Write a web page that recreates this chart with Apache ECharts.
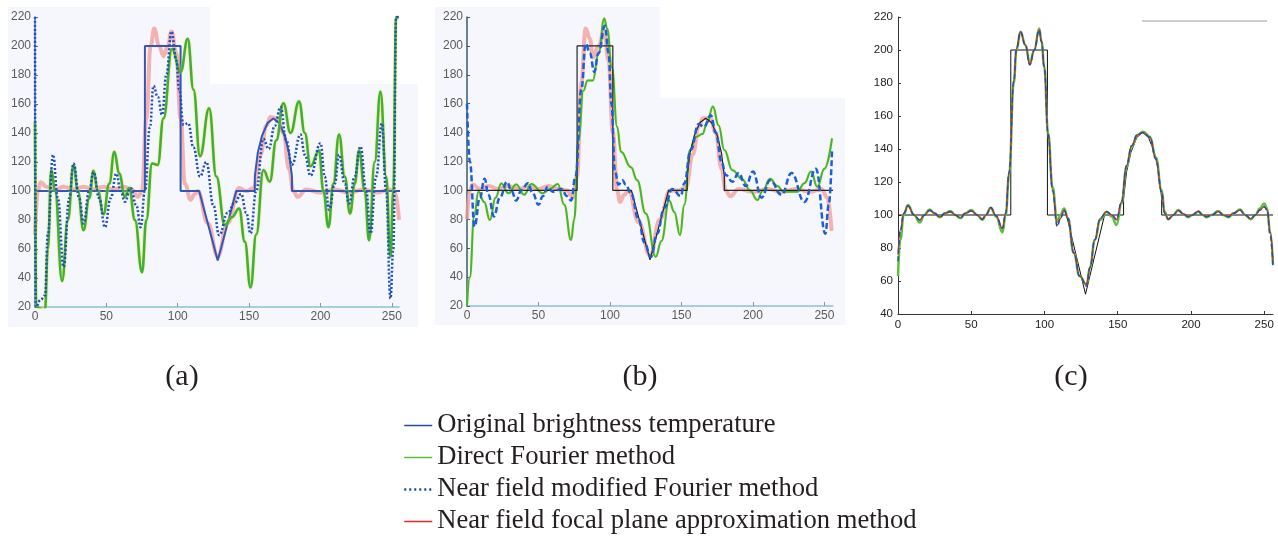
<!DOCTYPE html>
<html>
<head>
<meta charset="utf-8">
<script src="https://cdn.jsdelivr.net/npm/echarts@6/dist/echarts.min.js"></script>
<style>
html, body { margin: 0; padding: 0; background: #fff; }
#main { width: 1278px; height: 536px; }
</style>
</head>
<body>
<div id="main"></div>
<script>
var xTicks = [0, 50, 100, 150, 200, 250];
var yTicksAB = [20, 40, 60, 80, 100, 120, 140, 160, 180, 200, 220];
var yTicksC = [40, 60, 80, 100, 120, 140, 160, 180, 200, 220];
var panelLabels = ['(a)', '(b)', '(c)'];
var names = ['Original brightness temperature', 'Direct Fourier method',
             'Near field modified Fourier method', 'Near field focal plane approximation method'];

// original profile (same in every panel)
var original = [[0,100],[77,100],[77,200],[102,200],[102,100],[115,100],[128,52],[141,100],[154,100],
  [154,110],[156,126],[159,138],[163,147],[167,150],[171,147],[175,138],[178,126],[180,110],[180,100],[256,100]];

// panel (a)
var directA = [[0,148],[0.8,20],[7,18],[9,60],[11.4,115],[14,100],[19,38],[23,80],[27,118],[30,100],[34,73],
  [38,95],[41,114],[44,100],[48,84],[52,105],[55.6,127],[59,112],[63,96],[66,102],[70,80],[75,44],[78,80],
  [82,119],[86,118],[90,150],[96,198],[102,182],[107,205],[111,170],[115.6,124],[122,157],[127,110],[133,76.5],
  [138,82],[143,88],[147,65],[151,33.5],[155,70],[160,114.5],[164.5,106.5],[169,135],[174,160.5],[179,140],
  [185,161.7],[189,140],[193,117],[199,128],[202,100],[205.6,75],[209,105],[213,139],[217,110],[220.7,84.5],
  [224,105],[227,128],[231,100],[234,66],[238,120],[242,168.6],[246,110],[249,54.5],[251,100],[253,220],[255,220]];
var modifiedA = [[0,220],[0.5,20],[4,25],[7,28],[9,70],[12.6,125],[16,95],[20,47.6],[24,95],[27,119],[31,95],
  [34,77.6],[38,100],[41,113],[45,95],[49,75],[53,95],[57,112],[60,100],[63,92.6],[67,102],[71,90],[74,75],
  [77,100],[80.5,144],[83,172.5],[86,165],[89,152.5],[92,180],[95.6,210],[99,190],[101,170],[104,145.6],
  [107.4,146.7],[111,130],[115.6,110],[120,120],[125,90],[129,69.5],[135,85],[140,92],[144.4,98],[148,85],
  [151,70.7],[155,100],[160,136],[163.7,129],[168,145],[172,158],[176,135],[180,118],[186,139],[189,125],
  [193,110.6],[200,133],[203,110],[206,87],[210,105],[213,125],[217,105],[220,91.4],[224,110],[228,130.6],
  [232,100],[235,70.7],[239,110],[243,146.7],[246,100],[249,25.8],[251,60],[253,220],[255,220]];
var focalA = [[0,70],[2,100],[4,106],[8,103],[14,101],[20,103],[27,101],[34,103],[41,101],[48,103],[55,101],
  [62,103],[68,101],[72,96],[75,100],[78,150],[81,200],[83.5,212],[87,200],[90,193],[93,200],[95.6,210],[99,195],
  [102,150],[105,105],[109,94],[112,98],[114,100],[121,78],[128,55],[135,78],[143,102],[148,100],[153,102],
  [158,125],[162,145],[165,151],[170,150],[174,140],[178,115],[181,100],[184,96],[190,101],[200,99],[210,101],
  [220,99],[230,101],[240,99],[248,101],[252,100],[255,80]];

// panel (b)
var directB = [[0,20],[2,40],[5,82],[8,99],[12,92],[16,79.5],[20,95],[24,104.8],[29,98],[34.4,104],[40,97],
  [45,104.4],[53,98],[58,101],[63.5,104.4],[68,90],[72.8,65.6],[75,80],[78,135],[81.4,169],[84.4,176],[88,176],
  [92,195],[96,219],[98,212],[101.4,185],[105,144],[107.7,126.7],[114.7,116],[119,107],[125,84],[132,54],
  [136,65],[141.4,93],[145,85],[149,69],[152,90],[156,128],[160,137],[164.7,139],[168,147],[172,158],[176,145],
  [180,128],[185.6,114],[192.6,107.6],[198,100],[203,93.3],[207,100],[212,108],[217,103],[221.6,99],[231,99],
  [236,105],[240.7,113],[245,102.5],[250,115],[255.3,136]];
var modifiedB = [[0,160],[2,120],[5.3,75],[9,95],[12.3,108],[15,97],[18.8,82],[23,95],[28,106],[31,100],
  [34.4,93],[38,100],[42.6,105],[46,98],[50,90],[53,96],[56.5,102.5],[60,99],[66,101],[70,96],[72.8,93],
  [76,110],[80,170],[83,201.6],[86,195],[89,182],[92,195],[96.5,214],[99,195],[101,160],[103.5,113],[106,104],
  [108.8,107],[111,104],[114.7,98],[120,80],[124,64],[128.6,54],[133,70],[138,88],[143.7,101],[149.5,96],
  [152,105],[156.5,128],[162,146],[165.8,144],[170.5,152],[174,140],[178,120],[181,110.6],[185.6,106],
  [190,112],[195,103],[200,113],[206,95],[212,107],[220,97],[227,112],[236,92],[244,115],[250.7,70],[253,90],
  [255.3,127]];
var focalB = [[0,80],[2,100],[4,104],[9,101],[15,103],[22,101],[29,103],[36,101],[43,103],[50,101],[57,103],
  [64,101],[70,100],[74,95],[77,110],[80,175],[83,212],[86,205],[88,192],[92,200],[96,210],[99,190],[102,140],
  [105,100],[107,92],[110,97],[113,100],[120,78],[128,55],[135,80],[142,100],[148,100],[153,102],[158,125],
  [162,144],[165,150],[170,150],[174,140],[178,115],[181,100],[184,96],[190,101],[200,99],[210,101],[220,99],
  [230,101],[240,99],[248,101],[252,95],[255,72]];

// panel (c)
var directC = [[0,63],[1.6,85],[3.9,100],[6.8,106],[11,100],[14.8,95.4],[18,100],[21.6,103.4],[25,101],
  [28.5,98.6],[32,101],[35.8,102.4],[39,100],[42.6,98],[46,101],[50,103],[54,100],[57.6,97],[60,100],
  [63.3,104.4],[67,99],[71.3,89.4],[73.5,100],[75.9,125],[79,180],[80.9,200],[83.6,211],[87,203],[90,192],
  [93,200],[96.4,213],[98,205],[99.8,190],[102.5,149.4],[105.5,117],[108.7,96],[111,100],[113.4,104],[116,98],
  [120,76.9],[124,63],[128.7,57.7],[131,68],[134.4,85],[138,97],[142.4,102],[146,99],[149.2,94],[152.6,107],
  [156,129],[159.5,141],[163.3,148.4],[167.4,150.4],[172,147.4],[176,135],[180,115],[182,102],[184.5,97.4],
  [188,100],[191.3,103],[195,100.5],[198,98.6],[201,100],[205,102],[208,100],[210.7,98.6],[214,100],
  [218.7,102.4],[222,100],[225.5,98.6],[229,101],[233.5,103.4],[237,100],[240.8,97.4],[244,100],[247,104],
  [250,107],[252,104],[254,90],[256,70]];
var modifiedC = [[0,72],[1.6,90],[3.9,101],[6.8,105.5],[11,100],[14.8,97],[18,100],[21.6,102.8],[25,101],
  [28.5,98.8],[32,101],[35.8,102],[39,100],[42.6,98.4],[46,101],[50,102.5],[54,100],[57.6,97.5],[60,100],
  [63.3,104.5],[67,99.5],[71.3,92],[73.5,101],[75.9,126],[79,181],[80.9,201],[83.6,211],[87,203],[90,191],
  [93,200],[96.4,212],[98,205],[99.8,190],[102.5,149],[105.5,115],[108.7,93],[111,98],[113.4,103],[116,98],
  [120,77],[124,63],[128.7,57],[131,68],[134.4,85],[138,98],[142.4,102],[146,100],[149.2,97.5],[152.6,108],
  [156,130],[159.5,142],[163.3,148.6],[167.4,150],[172,147],[176,134],[180,114],[182,101],[184.5,97.5],
  [188,100],[191.3,102.8],[195,100.5],[198,99],[201,100],[205,102.4],[208,100],[210.7,99],[214,100],
  [218.7,102],[222,100],[225.5,99],[229,101],[233.5,103],[237,100],[240.8,97.8],[244,100],[247,103],
  [250,105],[252,103],[254,88],[256,68]];
var focalC = [[0,76],[1.6,91],[3.9,101],[6.8,105.5],[11,100],[14.8,97],[18,100],[21.6,103],[25,101],
  [28.5,98.8],[32,101],[35.8,102],[39,100],[42.6,98.4],[46,101],[50,102.5],[54,100],[57.6,97.5],[60,100],
  [63.3,104.4],[67,99.5],[71.3,92],[73.5,101],[75.9,126],[79,181],[80.9,201],[83.6,211],[87,203],[90,191],
  [93,200],[96.4,212],[98,205],[99.8,190],[102.5,149],[105.5,115],[108.7,94],[111,98],[113.4,103],[116,98],
  [120,77],[124,63],[128.7,58],[131,68],[134.4,85],[138,98],[142.4,102],[146,100],[149.2,97],[152.6,108],
  [156,130],[159.5,142],[163.3,148.6],[167.4,150],[172,147],[176,134],[180,114],[182,101],[184.5,97.5],
  [188,100],[191.3,102.8],[195,100.5],[198,99],[201,100],[205,102.4],[208,100],[210.7,99],[214,100],
  [218.7,102],[222,100],[225.5,99],[229,101],[233.5,103],[237,100],[240.8,97.8],[244,100],[247,103],
  [250,105],[252,103],[254,90],[256,72]];

var myChart = echarts.init(document.getElementById('main'), null, { renderer: 'canvas' });

function line(name, data, idx, style, z, smooth) {
    return {
        name: name,
        type: 'line',
        xAxisIndex: idx,
        yAxisIndex: idx,
        data: data,
        showSymbol: false,
        symbol: 'none',
        smooth: smooth ? 0.45 : false,
        smoothMonotone: 'x',
        lineStyle: style,
        z: z,
        silent: true,
        animation: false
    };
}

function xAxisAB(idx, max) {
    return {
        type: 'value', gridIndex: idx, min: 0, max: max, interval: 50,
        axisLine: { lineStyle: { color: '#8fbfd9', width: 1.5 } },
        axisTick: { inside: true, length: 4, customValues: xTicks, lineStyle: { color: '#6f9fbf' } },
        axisLabel: { customValues: xTicks, color: '#5a5a5a', fontSize: 12, margin: 4, fontFamily: 'Liberation Sans' },
        splitLine: { show: false }
    };
}
function yAxisAB(idx, color) {
    return {
        type: 'value', gridIndex: idx, min: 20, max: 220, interval: 20,
        axisLine: { show: true, lineStyle: { color: color, width: 1.5 } },
        axisTick: { inside: true, length: 3, lineStyle: { color: color } },
        axisLabel: { color: '#5a5a5a', fontSize: 12, margin: 4, fontFamily: 'Liberation Sans' },
        splitLine: { show: false }
    };
}

var pinkStyle = { color: '#f29a9a', width: 4, opacity: 0.75 };
var greenStyle = { color: '#3fae3a', width: 2.5, shadowColor: 'rgba(225,225,40,0.9)', shadowBlur: 2 };
var labelFont = '30px "Liberation Serif"';

option = {
    backgroundColor: '#ffffff',
    animation: false,
    grid: [
        { left: 35, top: 17, width: 364, height: 290 },
        { left: 467, top: 17, width: 366, height: 289 },
        { left: 898, top: 17, width: 375, height: 297 }
    ],
    xAxis: [
        xAxisAB(0, 255),
        xAxisAB(1, 256),
        {
            type: 'value', gridIndex: 2, min: 0, max: 256, interval: 50,
            axisLine: { lineStyle: { color: '#333', width: 1 } },
            axisTick: { inside: true, length: 3, customValues: xTicks, lineStyle: { color: '#333' } },
            axisLabel: { customValues: xTicks, color: '#222', fontSize: 11.5, margin: 5, fontFamily: 'Liberation Sans' },
            splitLine: { show: false }
        }
    ],
    yAxis: [
        yAxisAB(0, '#4a6aa8'),
        yAxisAB(1, '#3c5a66'),
        {
            type: 'value', gridIndex: 2, min: 40, max: 220, interval: 20,
            axisLine: { show: true, lineStyle: { color: '#333', width: 1 } },
            axisTick: { inside: true, length: 3, lineStyle: { color: '#333' } },
            axisLabel: { color: '#222', fontSize: 11.5, margin: 5, fontFamily: 'Liberation Sans' },
            splitLine: { show: false }
        }
    ],
    legend: {
        orient: 'vertical',
        left: 403,
        top: 412,
        height: 124,
        padding: 0,
        itemWidth: 28,
        itemHeight: 14,
        itemGap: 5,
        selectedMode: false,
        itemStyle: { opacity: 0 },
        textStyle: { color: '#231f20', fontSize: 26.6, fontFamily: 'Liberation Serif' },
        data: [
            { name: names[0], lineStyle: { color: '#2c4a9c', width: 1.5, type: 'solid', opacity: 1, shadowBlur: 0 } },
            { name: names[1], lineStyle: { color: '#5cbb3c', width: 1.5, type: 'solid', opacity: 1, shadowBlur: 0 } },
            { name: names[2], lineStyle: { color: '#2446a6', width: 2.5, type: [2, 3], opacity: 1, shadowBlur: 0 } },
            { name: names[3], lineStyle: { color: '#e8262a', width: 1.5, type: 'solid', opacity: 1, shadowBlur: 0 } }
        ]
    },
    graphic: [
        { type: 'rect', z: -10, shape: { x: 8, y: 7, width: 410, height: 320 }, style: { fill: '#f6f7fc' } },
        { type: 'rect', z: -9, shape: { x: 210, y: 0, width: 210, height: 84 }, style: { fill: '#ffffff' } },
        { type: 'rect', z: -10, shape: { x: 435, y: 7, width: 410, height: 318 }, style: { fill: '#f6f7fc' } },
        { type: 'rect', z: -9, shape: { x: 660, y: 0, width: 186, height: 98 }, style: { fill: '#ffffff' } },
        { type: 'line', shape: { x1: 1142, y1: 21, x2: 1267, y2: 21 }, style: { stroke: '#9c9c9c', lineWidth: 1 } },
        { type: 'text', x: 182, y: 377, style: { text: panelLabels[0], font: labelFont, fill: '#231f20', align: 'center', verticalAlign: 'middle' } },
        { type: 'text', x: 640, y: 377, style: { text: panelLabels[1], font: labelFont, fill: '#231f20', align: 'center', verticalAlign: 'middle' } },
        { type: 'text', x: 1071, y: 377, style: { text: panelLabels[2], font: labelFont, fill: '#231f20', align: 'center', verticalAlign: 'middle' } }
    ],
    series: [
        // (a)
        line(names[3], focalA, 0, pinkStyle, 2, true),
        line(names[0], original, 0, { color: '#3556b4', width: 2 }, 3, false),
        line(names[1], directA, 0, greenStyle, 4, true),
        line(names[2], modifiedA, 0, { color: '#1f4fc4', width: 2.5, type: [2, 2] }, 5, true),
        // (b)
        line(names[3], focalB, 1, pinkStyle, 2, true),
        line(names[1], directB, 1, { color: '#45b23a', width: 2, shadowColor: 'rgba(225,225,40,0.7)', shadowBlur: 1.5 }, 3, true),
        line(names[0], original, 1, { color: '#222', width: 1.2 }, 4, false),
        line(names[2], modifiedB, 1, { color: '#1d5ed6', width: 2.5, type: [6, 3] }, 5, true),
        // (c)
        line(names[0], original, 2, { color: '#111', width: 1 }, 2, false),
        line(names[1], directC, 2, { color: '#5cbf3a', width: 2.5 }, 3, true),
        line(names[3], focalC, 2, { color: '#e41e1e', width: 1.2 }, 4, true),
        line(names[2], modifiedC, 2, { color: '#2a4cb0', width: 1.5, type: [5, 3] }, 5, true)
    ]
};

myChart.setOption(option);
</script>
</body>
</html>
